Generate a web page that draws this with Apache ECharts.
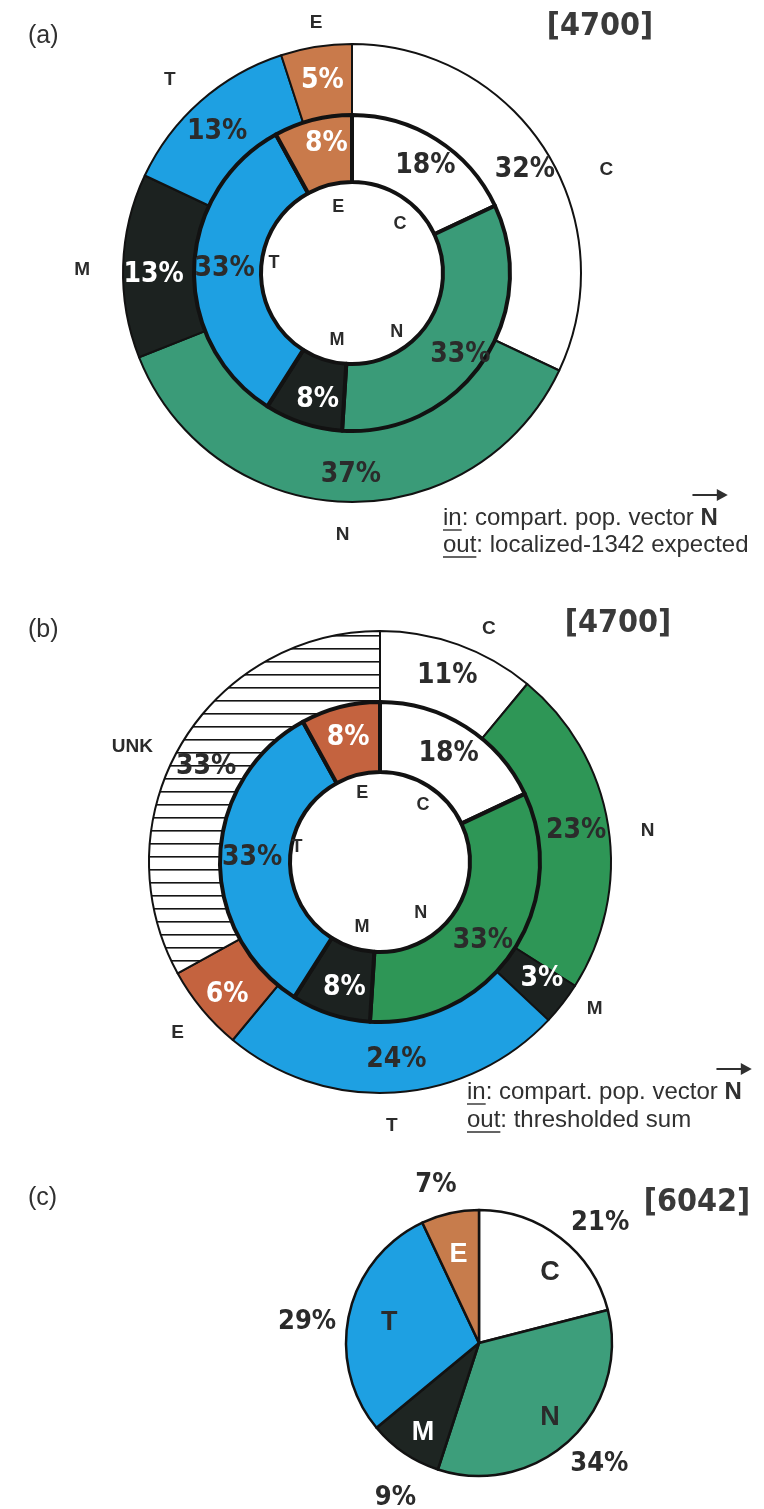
<!DOCTYPE html>
<html>
<head>
<meta charset="utf-8">
<script src="https://cdn.jsdelivr.net/npm/echarts@6/dist/echarts.min.js"></script>
<style>
  html, body { margin: 0; padding: 0; background: #ffffff; }
  #chart { width: 764px; height: 1509px; }
</style>
</head>
<body>
<div id="chart"></div>
<script>
// ---- data -------------------------------------------------------------
const categories = ['C', 'N', 'M', 'T', 'E'];
const aInner = [18, 33, 8, 33, 8];          // (a) inner ring, %
const aOuter = [32, 37, 13, 13, 5];         // (a) outer ring, %
const bInner = [18, 33, 8, 33, 8];          // (b) inner ring, %
const bOuterCategories = ['C', 'N', 'M', 'T', 'E', 'UNK'];
const bOuter = [11, 23, 3, 24, 6, 33];      // (b) outer ring, %
const cValues = [21, 34, 9, 29, 7];         // (c) pie, %
const panelTags = ['(a)', '(b)', '(c)'];
const sampleSizes = ['[4700]', '[4700]', '[6042]'];
const inputNote = 'compart. pop. vector';
const outputNotes = ['localized-1342 expected', 'thresholded sum'];

// ---- style ------------------------------------------------------------
const INK = '#2b2b2b';
const palA = { C: '#ffffff', N: '#3a9b78', M: '#1c2220', T: '#1ea0e2', E: '#c97a4b' };
const palB = { C: '#ffffff', N: '#2e9656', M: '#1c2220', T: '#1ea0e2', E: '#c4633f' };
const palC = { C: '#ffffff', N: '#3d9e7b', M: '#1e2522', T: '#1ea0e2', E: '#c77c4c' };
const lightText = { M: true, E: true };
const PCT_FONT = "'DejaVu Sans Condensed', 'Liberation Sans', sans-serif";
const LET_FONT = "'Liberation Sans', Arial, sans-serif";
const PCT_SIZE = 28;

// horizontal hatching for the unassigned share
const hatch = document.createElement('canvas');
hatch.width = 8; hatch.height = 13;
(function () {
  const g = hatch.getContext('2d');
  g.fillStyle = '#ffffff'; g.fillRect(0, 0, 8, 13);
  g.fillStyle = '#151515'; g.fillRect(0, 11, 8, 1.6);
})();

function colorOf(pal, name) {
  if (name === 'UNK') return { image: hatch, repeat: 'repeat' };
  return pal[name];
}

function nudger(cats, nudges) {
  return function (p) {
    const n = nudges && nudges[cats[p.dataIndex]];
    return n ? { dx: n[0], dy: n[1] } : {};
  };
}

// a filled ring (or pie) with percentage labels in each sector
function ring(center, radius, cats, vals, pal, border, showPct, nudges) {
  return {
    type: 'pie', center: center, radius: radius, silent: true,
    startAngle: 90, clockwise: true, avoidLabelOverlap: false,
    emphasis: { disabled: true },
    itemStyle: { borderColor: '#121212', borderWidth: border },
    label: {
      show: showPct, position: 'inside', formatter: '{c}%',
      fontFamily: PCT_FONT, fontSize: PCT_SIZE, fontWeight: 'bold', color: INK
    },
    labelLine: { show: false },
    labelLayout: nudger(cats, nudges),
    data: cats.map((c, i) => ({
      name: c, value: vals[i],
      itemStyle: { color: colorOf(pal, c) },
      label: { color: lightText[c] ? '#ffffff' : INK }
    }))
  };
}

// invisible sectors used only to place text around a ring
function textRing(center, radius, cats, vals, fmt, font, nudges, perItem) {
  return {
    type: 'pie', center: center, radius: radius, silent: true,
    startAngle: 90, clockwise: true, avoidLabelOverlap: false,
    emphasis: { disabled: true },
    itemStyle: { color: 'rgba(0,0,0,0)', borderWidth: 0 },
    label: Object.assign({ show: true, position: 'inside', formatter: fmt }, font),
    labelLine: { show: false },
    labelLayout: nudger(cats, nudges),
    data: cats.map((c, i) => Object.assign({ name: c, value: vals[i] },
      perItem ? { label: perItem(c) } : {}))
  };
}

const holeFont = { fontFamily: LET_FONT, fontSize: 18, fontWeight: 'bold', color: INK };
const letterFont = { fontFamily: LET_FONT, fontSize: 19, fontWeight: 'bold', color: INK };
const outerPctFont = { fontFamily: PCT_FONT, fontSize: 27, fontWeight: 'bold', color: INK };

// ---- geometry ---------------------------------------------------------
const cA = [352, 273], cB = [380, 862], cC = [479, 1343];
const rHoleA = 91, rMidA = 158, rOutA = 229;
const rHoleB = 90, rMidB = 160, rOutB = 231;
const rPie = 133;

const series = [
  // (a)
  ring(cA, [rMidA, rOutA], categories, aOuter, palA, 2, true,
    { C: [7, 2], N: [5, 5], M: [-2, 8], T: [-5, 6], E: [1, 2] }),
  ring(cA, [rHoleA, rMidA], categories, aInner, palA, 4, true,
    { C: [5, 0], N: [3, 10], M: [5, 5], E: [6, -6] }),
  textRing(cA, [0, 136], categories, aInner, '{b}', holeFont,
    { C: [10, 11], N: [-14, 19], M: [7, 0], T: [-7, -8], E: [4, 3] }),
  textRing(cA, [240, 290], categories, aOuter, '{b}', letterFont,
    { C: [28, 40], N: [-1, -6], M: [-2, 5], T: [-5, 8], E: [6, 14] }),
  // (b)
  ring(cB, [rMidB, rOutB], bOuterCategories, bOuter, palB, 2, true,
    { M: [5, -5], T: [4, 0], E: [0, 6], UNK: [-3, 6] }),
  ring(cB, [rHoleB, rMidB], categories, bInner, palB, 4, true,
    { N: [-3, 7], M: [4, 4] }),
  textRing(cB, [0, 136], categories, bInner, '{b}', holeFont,
    { C: [5, 3], N: [-18, 11], M: [4, -2], T: [-12, -13] }),
  textRing(cB, [240, 290], bOuterCategories, bOuter, '{b}', letterFont,
    { C: [18, 19], N: [3, 11], M: [3, -17], T: [-5, -4], E: [4, 0], UNK: [-17, 21] }),
  // (c)
  ring(cC, [0, rPie], categories, cValues, palC, 2.5, false),
  textRing(cC, [0, 190], categories, cValues, '{b}',
    { fontFamily: LET_FONT, fontSize: 27, fontWeight: 'bold', color: INK },
    { C: [11, 7], N: [4, 3], M: [-1, 8], T: [6, 1], E: [1, 7] },
    c => ({ color: lightText[c] ? '#ffffff' : INK })),
  textRing(cC, [150, 184], categories, cValues, '{c}%', outerPctFont,
    { C: [17, 14], N: [4, -3], M: [12, 14], T: [-6, 16], E: [-6, 8] })
];

// ---- annotations ------------------------------------------------------
const measureCtx = document.createElement('canvas').getContext('2d');
function textWidth(s, font) { measureCtx.font = font; return measureCtx.measureText(s).width; }

const NOTE_SIZE = 24;
const noteFont = NOTE_SIZE + "px 'Liberation Sans'";
const noteBold = 'bold ' + NOTE_SIZE + "px 'Liberation Sans'";

function txt(x, y, s, size, weight, align, family, fill) {
  return {
    type: 'text', x: x, y: y, silent: true,
    style: {
      text: s, fontSize: size, fontWeight: weight || 'normal',
      fontFamily: family || "'Liberation Sans', Arial, sans-serif",
      fill: fill || '#303030', align: align || 'left', verticalAlign: 'middle'
    }
  };
}

function noteBlock(x, y1, y2, outText) {
  const els = [];
  const wIn = textWidth('in', noteFont);
  const rest1 = ': ' + inputNote + ' ';
  const wRest1 = textWidth(rest1, noteFont);
  const nX = x + wIn + wRest1;
  const wN = textWidth('N', noteBold);
  els.push(txt(x, y1, 'in', NOTE_SIZE));
  els.push(txt(x + wIn, y1, rest1, NOTE_SIZE));
  els.push(txt(nX, y1, 'N', NOTE_SIZE, 'bold'));
  els.push({ type: 'line', silent: true, shape: { x1: x, y1: y1 + 12, x2: x + wIn, y2: y1 + 12 },
             style: { stroke: '#303030', lineWidth: 1.4 } });
  // vector arrow over N
  const ay = y1 - 23, ax1 = nX - 8, ax2 = nX + wN + 10;
  els.push({ type: 'line', silent: true, shape: { x1: ax1, y1: ay, x2: ax2 - 6, y2: ay },
             style: { stroke: '#303030', lineWidth: 2 } });
  els.push({ type: 'polygon', silent: true,
             shape: { points: [[ax2, ay], [ax2 - 11, ay - 6], [ax2 - 11, ay + 6]] },
             style: { fill: '#303030' } });
  const wOut = textWidth('out', noteFont);
  els.push(txt(x, y2, 'out', NOTE_SIZE));
  els.push(txt(x + wOut, y2, ': ' + outText, NOTE_SIZE));
  els.push({ type: 'line', silent: true, shape: { x1: x, y1: y2 + 12, x2: x + wOut, y2: y2 + 12 },
             style: { stroke: '#303030', lineWidth: 1.4 } });
  return els;
}

const tagY = [36, 630, 1198];
const sizeXY = [[600, 27], [618, 624], [697, 1203]];
const graphic = [];
panelTags.forEach((t, i) => graphic.push(txt(28, tagY[i], t, 25)));
sampleSizes.forEach((t, i) => graphic.push(
  txt(sizeXY[i][0], sizeXY[i][1], t, 32, 'bold', 'center', PCT_FONT, '#3a3a3a')));
noteBlock(443, 518, 545, outputNotes[0]).forEach(e => graphic.push(e));
noteBlock(467, 1092, 1120, outputNotes[1]).forEach(e => graphic.push(e));

const chart = echarts.init(document.getElementById('chart'), null, { renderer: 'canvas' });
chart.setOption({
  backgroundColor: '#ffffff',
  animation: false,
  series: series,
  graphic: { elements: graphic }
});
</script>
</body>
</html>
